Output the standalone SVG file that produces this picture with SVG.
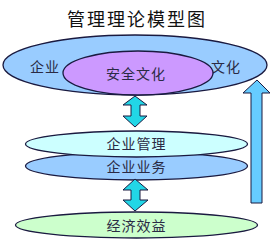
<svg xmlns="http://www.w3.org/2000/svg" width="271" height="247" viewBox="0 0 271 247">
<style>
.e{stroke:#1a1a40;stroke-width:1.3}
.t{font-family:"Noto Sans CJK SC","Noto Sans",sans-serif;font-size:14px;fill:#2a2a44;text-anchor:middle;dominant-baseline:central;letter-spacing:1px}
.title{font-family:"Noto Sans CJK SC","Noto Sans",sans-serif;font-size:18px;fill:#111;text-anchor:middle;letter-spacing:2px}
.ar{stroke:#1a1a40;stroke-width:1;stroke-linejoin:miter}
</style>
<rect width="271" height="247" fill="#fff"/>
<text class="title" x="137" y="26">管理理论模型图</text>
<g id="culture">
<ellipse class="e" cx="135" cy="65" rx="132" ry="30" fill="#99ccff"/>
<text class="t" x="45" y="66">企业</text>
<text class="t" x="226" y="66">文化</text>
</g>
<g id="safety">
<ellipse class="e" cx="138" cy="73" rx="75" ry="22" fill="#cc99ff"/>
<text class="t" x="136" y="73">安全文化</text>
</g>
<g id="business">
<ellipse class="e" cx="136.5" cy="166" rx="111" ry="14" fill="#99ccff"/>
<text class="t" x="136.5" y="166">企业业务</text>
</g>
<g id="management">
<ellipse class="e" cx="136.5" cy="144" rx="111" ry="13" fill="#ccffff"/>
<text class="t" x="136.5" y="143">企业管理</text>
</g>
<g id="benefit">
<ellipse class="e" cx="136.5" cy="225" rx="121" ry="13" fill="#ccffcc"/>
<text class="t" x="136.5" y="225">经济效益</text>
</g>
<g id="connectors">
<path class="ar" fill="#22d6e6" d="M135,96 L147,105 L140,105 L140,116 L147,116 L135,127 L123,116 L131,116 L131,105 L123,105 Z"/>
<path class="ar" fill="#22d6e6" d="M135,179 L148,190 L140,190 L140,200 L148,200 L135,211 L123,200 L131,200 L131,190 L123,190 Z"/>
<path class="ar" fill="#66ccff" d="M257,80 L270,93 L262,93 L262,203 L251,203 L251,93 L243,93 Z"/>
</g>
</svg>
